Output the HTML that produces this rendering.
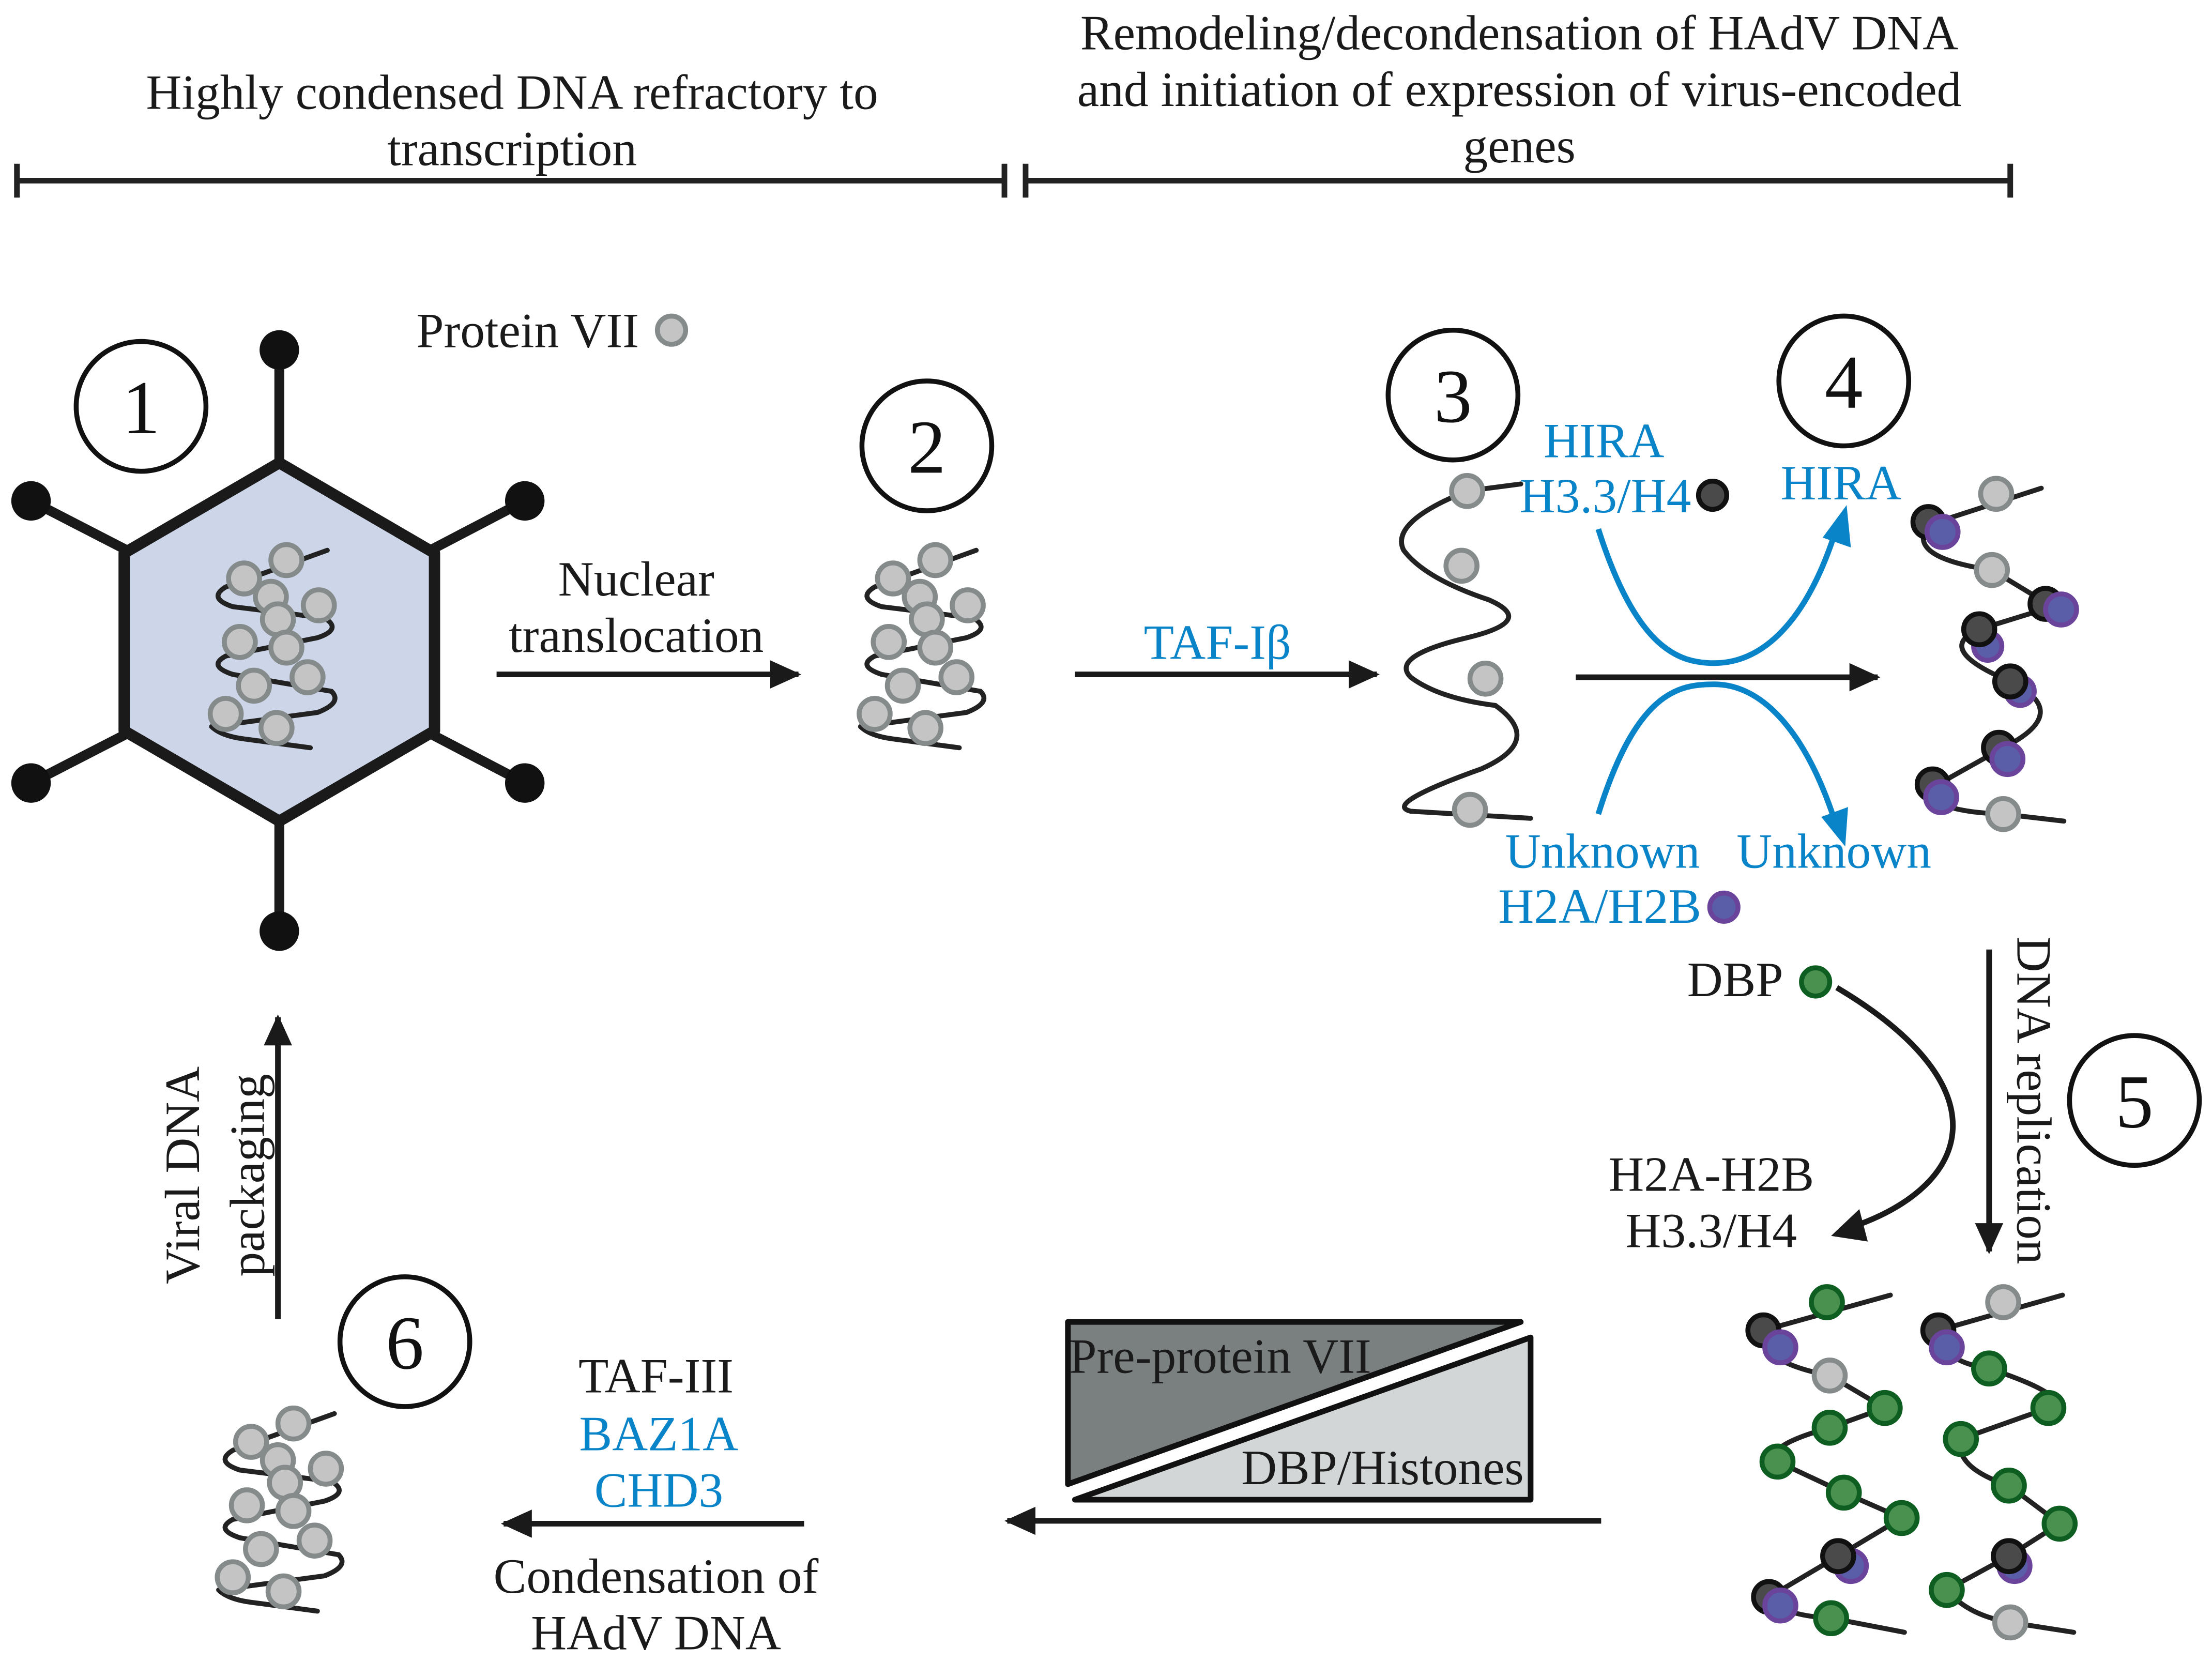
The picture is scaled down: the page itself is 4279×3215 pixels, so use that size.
<!DOCTYPE html>
<html><head><meta charset="utf-8"><style>html,body{margin:0;padding:0;background:#fff}svg{display:block}</style></head>
<body>
<svg width="4279" height="3215" viewBox="0 0 1568 1178" xmlns="http://www.w3.org/2000/svg" font-family="Liberation Serif, serif">
<defs>
<marker id="ak" markerWidth="22" markerHeight="20" refX="20" refY="10" orient="auto" markerUnits="userSpaceOnUse" viewBox="0 0 22 20"><path d="M0,0 L22,10 L0,20z" fill="#1a1a1a"/></marker>
<g id="coil">
<path d="M37,-70 L-35,-44 Q-48,-36 -30,-30 L35,-22 Q48,-14 30,-8 L-35,5 Q-48,12 -30,18 L40,30 Q48,38 30,45 L-45,55" fill="none" stroke="#222" stroke-width="3.5" stroke-linecap="round"/>
<path d="M-45,55 Q-38,62 -20,64 L25,70" fill="none" stroke="#222" stroke-width="3.5" stroke-linecap="round"/>
<g fill="#c4c4c4" stroke="#858b8b" stroke-width="3.5">
<circle cx="-22" cy="-50" r="11"/><circle cx="8" cy="-63" r="11"/><circle cx="-3" cy="-37" r="11"/><circle cx="31" cy="-31" r="11"/><circle cx="2" cy="-21" r="11"/><circle cx="-25" cy="-5" r="11"/><circle cx="8" cy="-1" r="11"/><circle cx="23" cy="20" r="11"/><circle cx="-15" cy="26" r="11"/><circle cx="-35" cy="46" r="11"/><circle cx="1" cy="56" r="11"/>
</g>
</g>
</defs>
<rect width="1568" height="1178" fill="#fff"/>
<g font-size="35" fill="#1a1a1a" text-anchor="middle">
<text x="363" y="77">Highly condensed DNA refractory to</text>
<text x="363" y="117">transcription</text>
<text x="1077" y="35">Remodeling/decondensation of HAdV DNA</text>
<text x="1077" y="75">and initiation of expression of virus-encoded</text>
<text x="1077" y="115">genes</text>
</g>
<g stroke="#222" stroke-width="4">
<line x1="12" y1="128" x2="712" y2="128"/><line x1="12" y1="116" x2="12" y2="140"/><line x1="712" y1="116" x2="712" y2="140"/>
<line x1="727" y1="128" x2="1425" y2="128"/><line x1="727" y1="116" x2="727" y2="140"/><line x1="1425" y1="116" x2="1425" y2="140"/>
</g>
<g stroke="#1a1a1a" stroke-width="7">
<line x1="198" y1="330" x2="198" y2="248"/><line x1="305" y1="390" x2="372" y2="355"/><line x1="305" y1="520" x2="372" y2="555"/>
<line x1="198" y1="580" x2="198" y2="660"/><line x1="90" y1="520" x2="22" y2="555"/><line x1="90" y1="390" x2="22" y2="355"/>
</g>
<g fill="#111"><circle cx="198" cy="248" r="14"/><circle cx="372" cy="355" r="14"/><circle cx="372" cy="555" r="14"/><circle cx="198" cy="660" r="14"/><circle cx="22" cy="555" r="14"/><circle cx="22" cy="355" r="14"/></g>
<path d="M198,328 L308,392 L308,518 L198,582 L88,518 L88,392 Z" fill="#cdd6e8" stroke="#1a1a1a" stroke-width="8" stroke-linejoin="round"/>
<use href="#coil" x="195" y="460"/>
<use href="#coil" x="655" y="460"/>
<use href="#coil" x="200" y="1072"/>
<g fill="#fff" stroke="#111" stroke-width="3.5"><circle cx="100" cy="288" r="46"/><circle cx="657" cy="316" r="46"/><circle cx="1030" cy="280" r="46"/><circle cx="1307" cy="270" r="46"/><circle cx="1513" cy="780" r="46"/><circle cx="287" cy="951" r="46"/></g>
<g font-size="54" text-anchor="middle" fill="#111"><text x="100" y="307">1</text><text x="657" y="335">2</text><text x="1030" y="299">3</text><text x="1307" y="289">4</text><text x="1513" y="799">5</text><text x="287" y="970">6</text></g>
<text x="374" y="246" font-size="35" text-anchor="middle" fill="#1a1a1a">Protein VII</text>
<circle cx="476" cy="234" r="10" fill="#c4c4c4" stroke="#858b8b" stroke-width="3.5"/>
<g stroke="#1a1a1a" stroke-width="4" marker-end="url(#ak)">
<line x1="352" y1="478" x2="566" y2="478"/><line x1="762" y1="478" x2="976" y2="478"/><line x1="1117" y1="480" x2="1331" y2="480"/>
<line x1="1410" y1="673" x2="1410" y2="887"/><line x1="1135" y1="1078" x2="714" y2="1078"/><line x1="570" y1="1080" x2="357" y2="1080"/><line x1="197" y1="935" x2="197" y2="721"/>
</g>
<g font-size="35" text-anchor="middle" fill="#1a1a1a">
<text x="451" y="422">Nuclear</text><text x="451" y="462">translocation</text>
<text x="1213" y="844">H2A-H2B</text><text x="1213" y="884">H3.3/H4</text>
<text x="1230" y="706">DBP</text>
<text x="465" y="987">TAF-III</text><text x="465" y="1129">Condensation of</text><text x="465" y="1169">HAdV DNA</text>
<text transform="translate(141,833) rotate(-90)">Viral DNA</text><text transform="translate(187,833) rotate(-90)">packaging</text>
<text transform="translate(1430,780) rotate(90)">DNA replication</text>
</g>
<g font-size="35" text-anchor="middle" fill="#0a84c8">
<text x="863" y="467">TAF-Iβ</text>
<text x="1137" y="324">HIRA</text><text x="1138" y="363">H3.3/H4</text><text x="1305" y="354">HIRA</text>
<text x="1136" y="615">Unknown</text><text x="1300" y="615">Unknown</text><text x="1134" y="654">H2A/H2B</text>
<text x="467" y="1028">BAZ1A</text><text x="467" y="1068">CHD3</text>
</g>
<circle cx="1214" cy="351" r="10" fill="#4a4a4a" stroke="#111" stroke-width="3.5"/>
<circle cx="1222" cy="643" r="10" fill="#5a5ea8" stroke="#6a449a" stroke-width="3.5"/>
<circle cx="1287" cy="696" r="10" fill="#4a9150" stroke="#0d5e20" stroke-width="3.5"/>
<g fill="none" stroke="#0a84c8" stroke-width="4">
<path d="M1133,375 C1160,460 1190,470 1215,470 C1250,470 1280,440 1300,380"/>
<path d="M1133,577 C1160,490 1190,485 1215,485 C1250,485 1280,520 1300,580"/>
</g>
<path d="M1309,358 L1312,388 L1292,381 Z" fill="#0a84c8"/>
<path d="M1308,600 L1310,572 L1291,579 Z" fill="#0a84c8"/>
<path d="M1302,700 C1420,770 1400,840 1312,870" fill="none" stroke="#1a1a1a" stroke-width="4"/>
<path d="M1298,876 L1318,857 L1324,880 Z" fill="#1a1a1a"/>
<path d="M1078,343 L1040,348 Q985,370 995,390 Q1010,410 1055,425 Q1090,440 1040,452 Q985,465 1000,480 Q1020,495 1060,500 Q1095,525 1050,545 Q980,570 1000,575 L1085,580" fill="none" stroke="#222" stroke-width="3.5" stroke-linecap="round"/>
<g fill="#c4c4c4" stroke="#858b8b" stroke-width="3.5"><circle cx="1040" cy="348" r="11"/><circle cx="1036" cy="401" r="11"/><circle cx="1053" cy="481" r="11"/><circle cx="1042" cy="574" r="11"/></g>
<path d="M1447,346 L1367,372 Q1350,395 1412,404 L1455,430 L1403,446 Q1370,460 1425,483 Q1470,505 1420,530 L1370,558 Q1365,575 1420,577 L1463,582" fill="none" stroke="#222" stroke-width="3.5" stroke-linecap="round"/>
<g stroke-width="3.5">
<g fill="#4a4a4a" stroke="#111"><circle cx="1367" cy="370" r="11"/><circle cx="1450" cy="428" r="11"/><circle cx="1417" cy="530" r="11"/><circle cx="1370" cy="556" r="11"/></g>
<g fill="#5a5ea8" stroke="#6a449a"><circle cx="1377" cy="377" r="11"/><circle cx="1461" cy="432" r="11"/><circle cx="1409" cy="458" r="10"/><circle cx="1432" cy="490" r="10"/><circle cx="1423" cy="538" r="11"/><circle cx="1376" cy="565" r="11"/></g>
<circle cx="1403" cy="446" r="11" fill="#4a4a4a" stroke="#111"/>
<circle cx="1425" cy="483" r="11" fill="#4a4a4a" stroke="#111"/>
<g fill="#c4c4c4" stroke="#858b8b"><circle cx="1415" cy="350" r="11"/><circle cx="1412" cy="404" r="11"/><circle cx="1420" cy="577" r="11"/></g>
</g>
<g fill="none" stroke="#222" stroke-width="3.5" stroke-linecap="round">
<path d="M1340,918 L1250,943 Q1245,965 1297,975 L1336,998 L1297,1012 Q1250,1025 1260,1036 L1307,1058 L1348,1076 L1303,1103 L1254,1132 Q1262,1145 1298,1147 L1350,1157"/>
<path d="M1462,918 L1374,943 Q1375,965 1410,970 Q1470,990 1452,998 L1390,1020 Q1385,1040 1424,1053 L1460,1080 L1424,1103 L1380,1127 Q1395,1145 1425,1150 L1470,1157"/>
</g>
<g stroke-width="3.5">
<g fill="#4a4a4a" stroke="#111"><circle cx="1250" cy="943" r="11"/><circle cx="1254" cy="1132" r="11"/><circle cx="1374" cy="943" r="11"/></g>
<g fill="#5a5ea8" stroke="#6a449a"><circle cx="1262" cy="955" r="11"/><circle cx="1312" cy="1110" r="11"/><circle cx="1262" cy="1138" r="11"/><circle cx="1380" cy="955" r="11"/><circle cx="1428" cy="1110" r="11"/></g>
<g fill="#4a4a4a" stroke="#111"><circle cx="1303" cy="1103" r="11"/><circle cx="1424" cy="1103" r="11"/></g>
<g fill="#4a9150" stroke="#0d5e20"><circle cx="1295" cy="923" r="11"/><circle cx="1336" cy="998" r="11"/><circle cx="1297" cy="1012" r="11"/><circle cx="1260" cy="1036" r="11"/><circle cx="1307" cy="1058" r="11"/><circle cx="1348" cy="1076" r="11"/><circle cx="1298" cy="1147" r="11"/>
<circle cx="1410" cy="970" r="11"/><circle cx="1452" cy="998" r="11"/><circle cx="1390" cy="1020" r="11"/><circle cx="1424" cy="1053" r="11"/><circle cx="1460" cy="1080" r="11"/><circle cx="1380" cy="1127" r="11"/></g>
<g fill="#c4c4c4" stroke="#858b8b"><circle cx="1297" cy="975" r="11"/><circle cx="1420" cy="923" r="11"/><circle cx="1425" cy="1150" r="11"/></g>
</g>
<path d="M757,937 L1078,937 L757,1052 Z" fill="#7a7f80" stroke="#111" stroke-width="4" stroke-linejoin="round"/>
<path d="M762,1063 L1085,948 L1085,1063 Z" fill="#d3d6d7" stroke="#111" stroke-width="4" stroke-linejoin="round"/>
<text x="865" y="973" font-size="35" text-anchor="middle" fill="#1a1a1a">Pre-protein VII</text>
<text x="980" y="1052" font-size="35" text-anchor="middle" fill="#1a1a1a">DBP/Histones</text>
</svg>
</body></html>
